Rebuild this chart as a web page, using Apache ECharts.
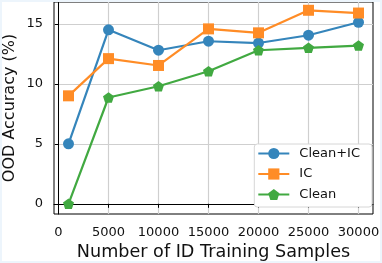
<!DOCTYPE html>
<html><head><meta charset="utf-8">
<script src="https://cdn.jsdelivr.net/npm/echarts@6/dist/echarts.min.js"></script>
<style>
html,body{margin:0;padding:0;background:#fff;}
#c{position:absolute;left:0;top:0;width:382px;height:263px;}
#frame{position:absolute;left:0;top:0;width:378px;height:259px;border:2px solid #edf5fc;pointer-events:none;}
</style></head>
<body><div id="c"></div><div id="frame"></div>
<script>
const samples = [1000, 5000, 10000, 15000, 20000, 25000, 30000];
const cleanIC = [5.0, 14.5, 12.8, 13.55, 13.4, 14.05, 15.13];
const ic = [9.0, 12.1, 11.53, 14.58, 14.25, 16.13, 15.9];
const clean = [0.0, 8.86, 9.8, 11.05, 12.8, 13.0, 13.19];
const xTicks = [0, 5000, 10000, 15000, 20000, 25000, 30000];
const yTicks = [0, 5, 10, 15];
const seriesNames = ['Clean+IC', 'IC', 'Clean'];

const font = 'DejaVu Sans';
const pent = 'path://M0,-1 L0.951,-0.309 L0.588,0.809 L-0.588,0.809 L-0.951,-0.309 Z';
const colors = ['#3585bb', '#ff8c26', '#41a941'];
const symbols = ['circle', 'rect', pent];
const sizes = [11, 11, 11];
const vals = [cleanIC, ic, clean];

const chart = echarts.init(document.getElementById('c'), null, {renderer: 'canvas'});
chart.setOption({
  backgroundColor: '#fff',
  animation: false,
  grid: {left: 54, right: 9, top: 2, bottom: 49, outerBoundsMode: 'none', containLabel: false, show: true, borderColor: '#000', borderWidth: 1, backgroundColor: 'transparent'},
  xAxis: {
    type: 'value', min: -450, max: 31450,
    name: 'Number of ID Training Samples', nameLocation: 'middle', nameGap: 29, nameMoveOverlap: false,
    nameTextStyle: {fontFamily: font, fontSize: 17.6, color: '#111'},
    axisLine: {show: true, lineStyle: {color: '#000', width: 1}},
    axisTick: {show: true, length: 4, lineStyle: {color: '#000'}, customValues: xTicks},
    axisLabel: {fontFamily: font, fontSize: 13, color: '#111', margin: 12, customValues: xTicks, formatter: v => String(v)},
    splitLine: {show: true, lineStyle: {color: '#cfcfcf', width: 1.2}}
  },
  yAxis: {
    type: 'value', min: -0.85, max: 16.82,
    name: 'OOD Accuracy (%)', nameLocation: 'middle', nameGap: 36, nameMoveOverlap: false,
    nameTextStyle: {fontFamily: font, fontSize: 16, color: '#111'},
    axisLine: {show: true, lineStyle: {color: '#000', width: 1}},
    axisTick: {show: true, length: 4, lineStyle: {color: '#000'}, customValues: yTicks},
    axisLabel: {fontFamily: font, fontSize: 13, color: '#111', margin: 11, customValues: yTicks, formatter: v => String(v)},
    splitLine: {show: true, lineStyle: {color: '#cfcfcf', width: 1.2}}
  },
  legend: {
    orient: 'vertical', right: 10, bottom: 56,
    backgroundColor: '#fff', borderColor: '#d6d6d6', borderWidth: 1, borderRadius: 3,
    padding: [3, 12, 6, 3], itemWidth: 31, itemHeight: 14, itemGap: 7.5,
    textStyle: {fontFamily: font, fontSize: 13, color: '#111', padding: [0, 0, 0, 5]},
    data: seriesNames
  },
  series: seriesNames.map((n, i) => ({
    name: n, type: 'line',
    data: samples.map((s, j) => [s, vals[i][j]]),
    symbol: symbols[i], symbolSize: sizes[i], symbolKeepAspect: true, showSymbol: true,
    lineStyle: {color: colors[i], width: 2.2},
    itemStyle: {color: colors[i], borderWidth: 0},
    z: 3 + i
  }))
});
</script></body></html>
